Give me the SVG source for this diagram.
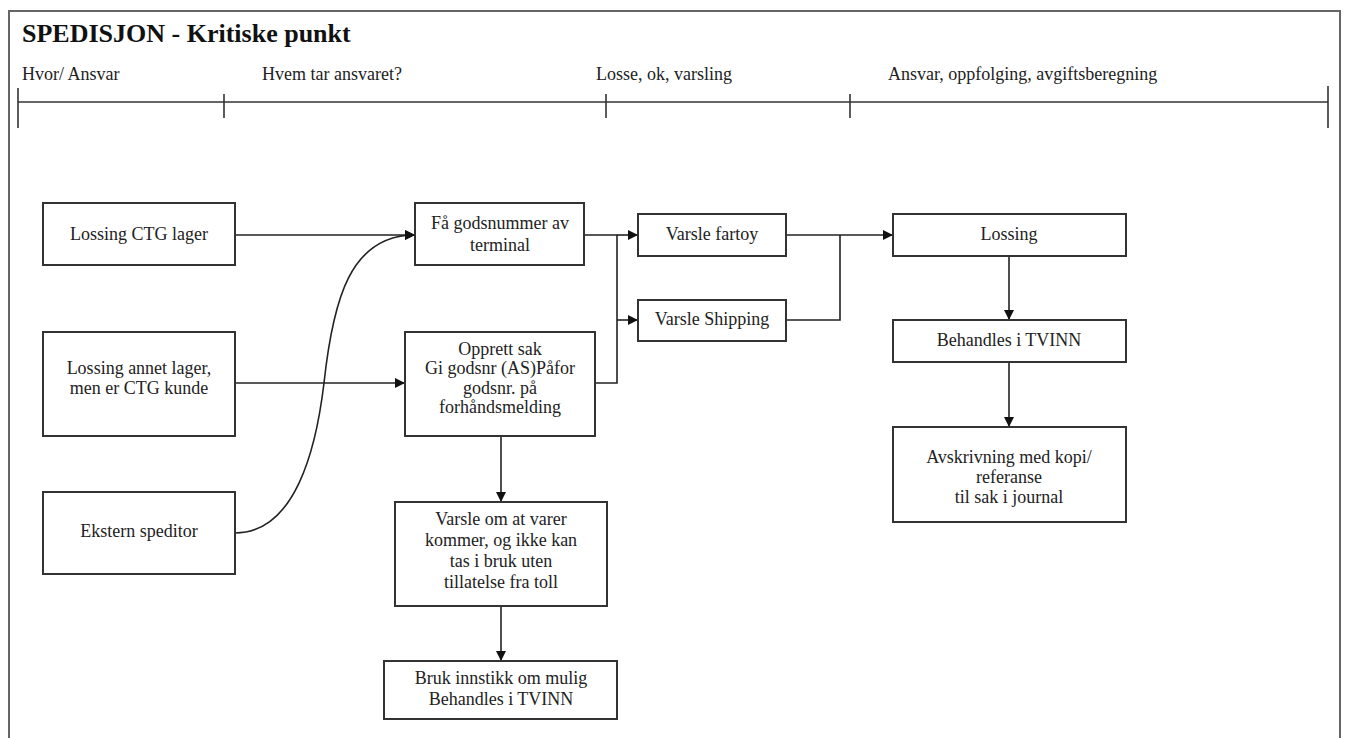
<svg xmlns="http://www.w3.org/2000/svg" width="1346" height="738" viewBox="0 0 1346 738">
<style>
.box{fill:#fff;stroke:#333;stroke-width:2}
.t{font-family:"Liberation Serif","Times New Roman",Tinos,"DejaVu Serif",serif;font-size:18px;fill:#222;text-anchor:middle}
.h{font-family:"Liberation Serif","Times New Roman",Tinos,"DejaVu Serif",serif;font-size:18px;fill:#222}
.c{fill:none;stroke:#222;stroke-width:1.6}
.ax{stroke:#333;stroke-width:1.6}
</style>
<defs>
<marker id="ar" viewBox="0 0 10 10" refX="10" refY="5" markerWidth="10" markerHeight="10" markerUnits="userSpaceOnUse" orient="auto">
<path d="M0,0 L10,5 L0,10 z" fill="#111"/>
</marker>
</defs>
<rect x="0" y="0" width="1346" height="738" fill="#fff"/>
<rect x="9" y="11" width="1331" height="740" fill="none" stroke="#666" stroke-width="2"/>
<text x="22" y="42" font-family="Liberation Serif,Times New Roman,serif" font-weight="bold" font-size="26" fill="#111">SPEDISJON - Kritiske punkt</text>
<g id="timeline">
<line class="ax" x1="18" y1="102" x2="1328" y2="102"/>
<line class="ax" x1="18" y1="88" x2="18" y2="128"/>
<line class="ax" x1="224" y1="94" x2="224" y2="118"/>
<line class="ax" x1="606" y1="94" x2="606" y2="118"/>
<line class="ax" x1="850" y1="94" x2="850" y2="118"/>
<line class="ax" x1="1328" y1="86" x2="1328" y2="128"/>
<text class="h" x="22" y="80">Hvor/ Ansvar</text>
<text class="h" x="262" y="80">Hvem tar ansvaret?</text>
<text class="h" x="596" y="80">Losse, ok, varsling</text>
<text class="h" x="888" y="80">Ansvar, oppfolging, avgiftsberegning</text>
</g>
<g id="connectors">
<line class="c" x1="235" y1="235" x2="415" y2="235" marker-end="url(#ar)"/>
<line class="c" x1="235" y1="383" x2="405" y2="383" marker-end="url(#ar)"/>
<path class="c" d="M235,533 C295,533 316,450 324,383 C333,300 350,235 415,235" marker-end="url(#ar)"/>
<polyline class="c" points="584,235 617,235 617,383 595,383"/>
<line class="c" x1="617" y1="235" x2="638" y2="235" marker-end="url(#ar)"/>
<line class="c" x1="617" y1="320" x2="638" y2="320" marker-end="url(#ar)"/>
<line class="c" x1="786" y1="235" x2="893" y2="235" marker-end="url(#ar)"/>
<polyline class="c" points="786,320 840,320 840,235"/>
<line class="c" x1="1009" y1="256" x2="1009" y2="320" marker-end="url(#ar)"/>
<line class="c" x1="1009" y1="362" x2="1009" y2="427" marker-end="url(#ar)"/>
<line class="c" x1="501" y1="436" x2="501" y2="502" marker-end="url(#ar)"/>
<line class="c" x1="501" y1="606" x2="501" y2="661" marker-end="url(#ar)"/>
</g>
<g id="n1"><rect class="box" x="43" y="203" width="192" height="62"/><text class="t" x="139" y="240">Lossing CTG lager</text></g>
<g id="n2"><rect class="box" x="43" y="332" width="192" height="104"/><text class="t" x="139" y="374">Lossing annet lager,</text><text class="t" x="139" y="394">men er CTG kunde</text></g>
<g id="n3"><rect class="box" x="43" y="492" width="192" height="82"/><text class="t" x="139" y="537">Ekstern speditor</text></g>
<g id="n4"><rect class="box" x="415" y="203" width="169" height="62"/><text class="t" x="500" y="229">Få godsnummer av</text><text class="t" x="500" y="251">terminal</text></g>
<g id="n5"><rect class="box" x="405" y="332" width="190" height="104"/><text class="t" x="500" y="355">Opprett sak</text><text class="t" x="500" y="374">Gi godsnr (AS)Påfor</text><text class="t" x="500" y="394">godsnr. på</text><text class="t" x="500" y="413">forhåndsmelding</text></g>
<g id="n6"><rect class="box" x="395" y="502" width="212" height="104"/><text class="t" x="501" y="525">Varsle om at varer</text><text class="t" x="501" y="546">kommer, og ikke kan</text><text class="t" x="501" y="567">tas i bruk uten</text><text class="t" x="501" y="588">tillatelse fra toll</text></g>
<g id="n7"><rect class="box" x="384" y="661" width="233" height="58"/><text class="t" x="501" y="684">Bruk innstikk om mulig</text><text class="t" x="501" y="705">Behandles i TVINN</text></g>
<g id="n8"><rect class="box" x="638" y="214" width="148" height="42"/><text class="t" x="712" y="240">Varsle fartoy</text></g>
<g id="n9"><rect class="box" x="638" y="300" width="148" height="41"/><text class="t" x="712" y="325">Varsle Shipping</text></g>
<g id="n10"><rect class="box" x="893" y="214" width="233" height="42"/><text class="t" x="1009" y="240">Lossing</text></g>
<g id="n11"><rect class="box" x="893" y="320" width="233" height="42"/><text class="t" x="1009" y="346">Behandles i TVINN</text></g>
<g id="n12"><rect class="box" x="893" y="427" width="233" height="95"/><text class="t" x="1009" y="463">Avskrivning med kopi/</text><text class="t" x="1009" y="483">referanse</text><text class="t" x="1009" y="503">til sak i journal</text></g>
</svg>
